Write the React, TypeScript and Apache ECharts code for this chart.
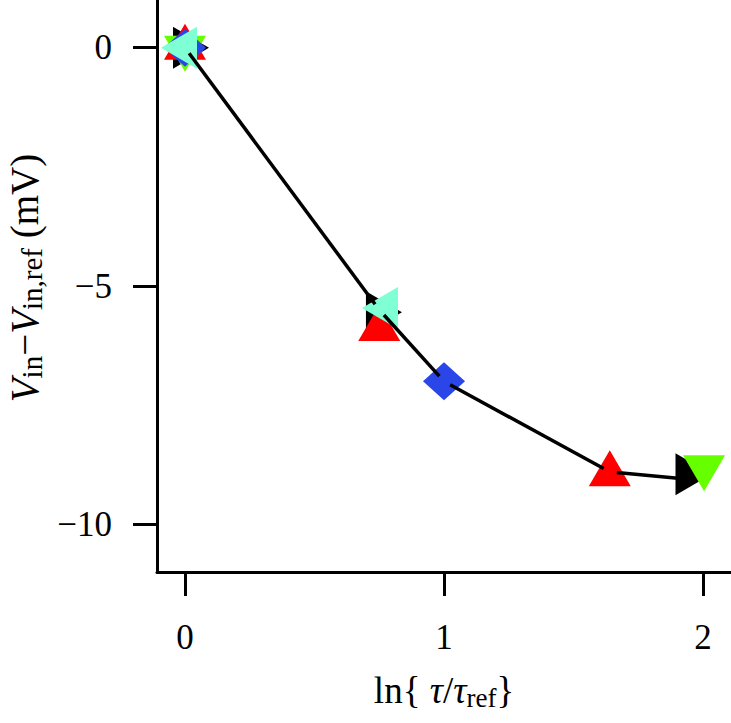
import React, { useEffect, useRef } from "react";
import * as echarts from "echarts";

const xTicks = [0, 1, 2];
const yTicks = [-10, -5, 0];

// series (x = ln(tau/tau_ref), y = V_in - V_in,ref in mV)
const redX = [0, 0.75, 1.64];
const redY = [0, -5.9, -8.95];
const blackX = [0, 0.745, 1.94];
const blackY = [0, -5.55, -8.95];
const aquaX = [0, 0.776];
const aquaY = [0, -5.46];
const blueX = [0, 1.0];
const blueY = [0, -7.0];
const greenX = [0, 2.004];
const greenY = [0, -8.8];

// connecting line
const lineX = [0, 0.75, 1.0, 1.64, 1.94];
const lineY = [0, -5.5, -7.0, -8.9, -9.05];

const FONT = "'Liberation Serif', 'Times New Roman', serif";

const pairs = (xs: number[], ys: number[]) => xs.map((x, i) => [x, ys[i]]);
const fmt = (v: number) => (v < 0 ? "\u2212" + Math.abs(v) : String(v));

export default function App() {
  const ref = useRef<HTMLDivElement>(null);
  useEffect(() => {
    if (!ref.current) return;
    const chart = echarts.init(ref.current, null, { renderer: "svg" });
    const tri = (name: string, color: string, xs: number[], ys: number[], rot: number, off: number[], z: number) => ({
      type: "scatter",
      name,
      data: pairs(xs, ys),
      symbol: "triangle",
      symbolSize: [42, 36],
      symbolRotate: rot,
      symbolOffset: off,
      itemStyle: { color, opacity: 1 },
      z,
      clip: false,
    });
    const GAP = 7;
    const richX = {
      n: { fontFamily: FONT, fontSize: 37, color: "#000" },
      it: { fontFamily: FONT, fontSize: 37, fontStyle: "italic", color: "#000" },
      sub: { fontFamily: FONT, fontSize: 27, color: "#000", verticalAlign: "bottom", padding: [14, 0, 0, 0] },
    };
    const richY = {
      n: { fontFamily: FONT, fontSize: 39, color: "#000" },
      it: { fontFamily: FONT, fontSize: 39, fontStyle: "italic", color: "#000" },
      sub: { fontFamily: FONT, fontSize: 29, color: "#000", verticalAlign: "bottom", padding: [14, 0, 0, 0] },
    };
    chart.setOption({
      animation: false,
      backgroundColor: "#ffffff",
      grid: { left: 157, right: 0, top: 0, bottom: 151, containLabel: false, outerBoundsMode: "none" },
      xAxis: {
        type: "value",
        min: -0.108,
        max: 2.108,
        name: "ln{ {it|\u03C4}/{it|\u03C4}{sub|ref}}",
        nameLocation: "middle",
        nameGap: 98,
        nameTextStyle: { fontFamily: FONT, fontSize: 37, color: "#000", rich: richX },
        axisLine: { show: true, onZero: false, lineStyle: { color: "#000", width: 3 } },
        axisTick: { show: true, customValues: xTicks, length: 24, lineStyle: { color: "#000", width: 3 } },
        axisLabel: { customValues: xTicks, margin: 48, fontSize: 35, fontFamily: FONT, color: "#000", formatter: fmt },
        splitLine: { show: false },
      },
      yAxis: {
        type: "value",
        min: -11.0,
        max: 1.0,
        name: "{it|V}{sub|in}{n|\u2212}{it|V}{sub|in,ref}{n| (mV)}",
        nameLocation: "middle",
        nameGap: 110,
        nameTextStyle: { fontFamily: FONT, fontSize: 39, color: "#000", rich: richY, padding: [0, 0, 0, 16] },
        axisLine: { show: true, onZero: false, lineStyle: { color: "#000", width: 3 } },
        axisTick: { show: true, customValues: yTicks, length: 24, lineStyle: { color: "#000", width: 3 } },
        axisLabel: { customValues: yTicks, margin: 45, fontSize: 35, fontFamily: FONT, color: "#000", formatter: fmt },
        splitLine: { show: false },
      },
      series: [
        tri("black", "#000000", blackX, blackY, -90, [6, 0], 2),
        tri("red", "#ff0000", redX, redY, 0, [0, -6], 3),
        tri("green", "#66ff00", greenX, greenY, 180, [0, 6], 4),
        {
          type: "scatter",
          name: "blue",
          data: pairs(blueX, blueY),
          symbol: "diamond",
          symbolSize: [42, 38],
          itemStyle: { color: "#2a45e8", opacity: 1 },
          z: 5,
          clip: false,
        },
        tri("aqua", "#7fffd4", aquaX, aquaY, 90, [-6, 0], 6),
        {
          type: "custom",
          name: "line",
          data: pairs(lineX, lineY),
          encode: { x: 0, y: 1 },
          z: 10,
          clip: false,
          renderItem: (params: any, api: any) => {
            const i = params.dataIndex;
            if (i === 0) return { type: "group", children: [] };
            const p0 = api.coord([lineX[i - 1], lineY[i - 1]]);
            const p1 = api.coord([lineX[i], lineY[i]]);
            const dx = p1[0] - p0[0];
            const dy = p1[1] - p0[1];
            const len = Math.sqrt(dx * dx + dy * dy);
            const ux = dx / len;
            const uy = dy / len;
            return {
              type: "line",
              shape: {
                x1: p0[0] + ux * GAP,
                y1: p0[1] + uy * GAP,
                x2: p1[0] - ux * GAP,
                y2: p1[1] - uy * GAP,
              },
              style: { stroke: "#000", lineWidth: 3.5 },
            };
          },
        },
      ],
    });
    return () => chart.dispose();
  }, []);
  return <div ref={ref} style={{ width: 731, height: 723, position: "absolute", left: 0, top: 0 }} />;
}
